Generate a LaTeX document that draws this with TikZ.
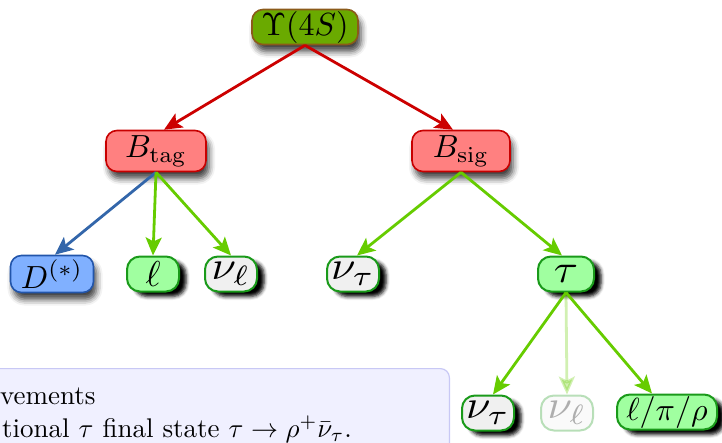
\documentclass[tikz,border=0pt]{standalone}
\usetikzlibrary{arrows.meta,shadows.blur}
\definecolor{upsfill}{RGB}{106,170,0}
\definecolor{upsdraw}{RGB}{139,90,26}
\definecolor{bfill}{RGB}{255,128,128}
\definecolor{bdraw}{RGB}{200,0,0}
\definecolor{dfill}{RGB}{128,176,255}
\definecolor{ddraw}{RGB}{34,85,170}
\definecolor{lgfill}{RGB}{160,255,160}
\definecolor{lgdraw}{RGB}{26,154,26}
\definecolor{wfill}{RGB}{240,240,240}
\definecolor{edgegreen}{RGB}{102,204,0}
\definecolor{edgered}{RGB}{204,0,0}
\definecolor{edgeblue}{RGB}{51,102,170}
\definecolor{blockfill}{RGB}{240,240,255}
\definecolor{blockdraw}{RGB}{200,200,245}
\newcommand{\nodetxt}[1]{\scalebox{3.2}{#1}}
\newcommand{\leaftxt}[1]{\scalebox{3.6}{#1}}
\newcommand{\wideleaf}[1]{\scalebox{4.4}[4.0]{#1}}
\newcommand{\bodytxt}[1]{\scalebox{2.7}{#1}}
\tikzset{
  x=1pt,y=-1pt,
  basebox/.style={rounded corners=11pt, line width=1.6pt, inner sep=0pt},
  softshadow/.style={blur shadow={shadow xshift=3pt, shadow yshift=-7pt,
    shadow blur radius=6pt, shadow opacity=75}},
  hardshadow/.style={blur shadow={shadow xshift=7pt, shadow yshift=-5pt,
    shadow blur radius=3.5pt, shadow opacity=100}},
  topbox/.style={basebox, softshadow},
  leafbase/.style={basebox, rounded corners=13pt, line width=2pt, draw=lgdraw,
    minimum width=52pt, minimum height=35pt},
  leafbox/.style={leafbase, hardshadow},
  edge/.style={line width=2.8pt, -{Stealth[length=18pt,width=16pt,inset=4pt]}},
}
\begin{document}
\begin{tikzpicture}
\useasboundingbox (0,0) rectangle (722,442);
\begin{scope}
\clip (0,0) rectangle (722,442);
% bottom block
\node[draw=blockdraw, fill=blockfill, line width=1.2pt, rounded corners=9pt,
  minimum width=480pt, minimum height=110pt, anchor=north east] (block) at (450,368) {};
\node[anchor=base west, inner sep=0pt] (l1) at (0,404) {\bodytxt{vements}};
\node[anchor=base west, inner sep=0pt] (l2) at (2,437) {\bodytxt{tional $\tau$ final state $\tau\to\rho^+\bar\nu_\tau$.}};

% nodes
\node[topbox, fill=upsfill, draw=upsdraw, minimum width=106pt, minimum height=35pt] (ups) at (305,27) {\nodetxt{$\Upsilon(4S)$}};
\node[topbox, fill=bfill, draw=bdraw, minimum width=100pt, minimum height=41pt] (btag) at (156,151) {\nodetxt{$B_{\mathrm{tag}}$}};
\node[topbox, fill=bfill, draw=bdraw, minimum width=98pt, minimum height=41pt] (bsig) at (461,151) {\nodetxt{$B_{\mathrm{sig}}$}};
\node[topbox, fill=dfill, draw=ddraw, minimum width=83pt, minimum height=37pt] (dst) at (52,274) {\nodetxt{$D^{(*)}$}};
\node[leafbox, fill=lgfill] (ell) at (153,274) {\leaftxt{$\ell$}};
\node[leafbox, fill=wfill] (nul) at (231,274) {\wideleaf{$\nu_\ell$}};
\node[leafbox, fill=wfill] (nut1) at (353,274) {\wideleaf{$\nu_\tau$}};
\node[leafbox, fill=lgfill, minimum width=56pt] (tau) at (566,274) {\wideleaf{$\tau$}};
\node[leafbox, fill=wfill] (nut2) at (488,413) {\wideleaf{$\nu_\tau$}};
\node[leafbase, fill=wfill, opacity=0.3] (nul2) at (567,413) {\wideleaf{$\nu_\ell$}};
\node[leafbox, fill=lgfill, minimum width=100pt] (lpr) at (667,412) {\nodetxt{$\ell/\pi/\rho$}};

% edges
\draw[edge, edgered] (ups.south) -- ([xshift=8pt]btag.north);
\draw[edge, edgered] (ups.south) -- ([xshift=-8pt]bsig.north);
\draw[edge, edgeblue] (btag.south) -- ([xshift=3pt]dst.north);
\draw[edge, edgegreen] (btag.south) -- (ell.north);
\draw[edge, edgegreen] (btag.south) -- (nul.north);
\draw[edge, edgegreen] (bsig.south) -- ([xshift=4pt]nut1.north);
\draw[edge, edgegreen] (bsig.south) -- ([xshift=-4pt]tau.north);
\draw[edge, edgegreen] (tau.south) -- ([xshift=5pt]nut2.north);
\draw[edge, edgegreen, opacity=0.3] (tau.south) -- (nul2.north);
\draw[edge, edgegreen] (tau.south) -- ([xshift=-15pt]lpr.north);
\end{scope}
\end{tikzpicture}
\end{document}
